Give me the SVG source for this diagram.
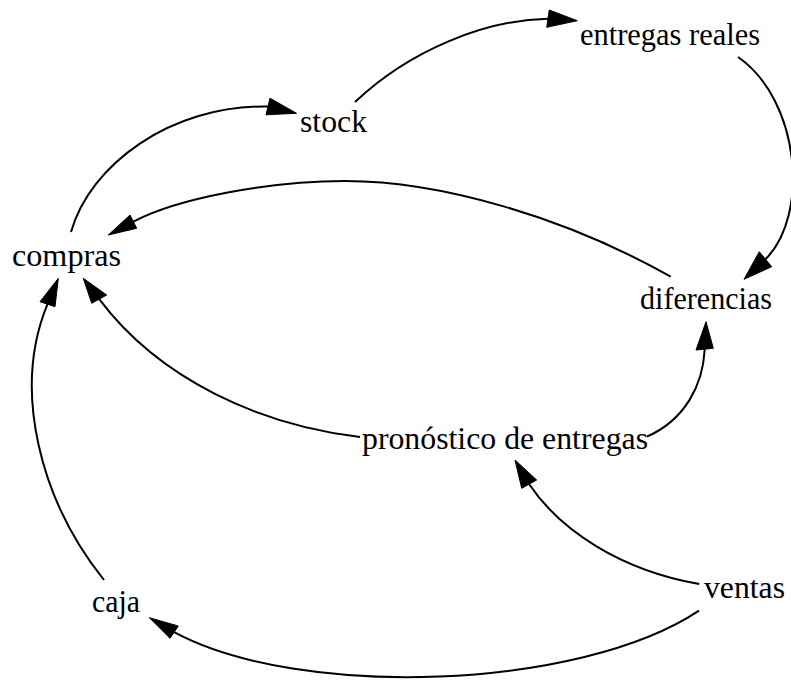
<svg xmlns="http://www.w3.org/2000/svg" width="791" height="681" viewBox="0 0 791 681">
<style>
.lbl{font-family:"Liberation Serif","Times New Roman",serif;font-size:32px;fill:#000;text-anchor:middle}
.edge{fill:none;stroke:#000;stroke-width:2}
.head{fill:#000;stroke:#000;stroke-width:1}
</style>
<rect width="791" height="681" fill="#fff"/>
<g id="connectors">
<g id="e-compras-stock"><path class="edge" d="M71,232 C90,165 170,105 268,106.5"/><polygon class="head" points="270,98.2 296.5,113.3 266,114.8"/></g>
<g id="e-stock-entregas"><path class="edge" d="M355,102 C410,50 485,20 548,18.7"/><polygon class="head" points="549.3,10 577.3,20.7 546.7,27.3"/></g>
<g id="e-entregas-diferencias"><path class="edge" d="M738,57 C800,100 810,215 765.5,259.2"/><polygon class="head" points="759.3,251.7 744,279.3 771.7,266.7"/></g>
<g id="e-diferencias-compras"><path class="edge" d="M670.7,276.7 C564.5,216.7 440,181 345,181 C270,181 177.6,198.3 133.4,221.7"/><polygon class="head" points="130,215 108.3,235 136.7,228.3"/></g>
<g id="e-pronostico-compras"><path class="edge" d="M360,437 C260,425 160,380 99.2,299.2"/><polygon class="head" points="91.7,303.3 83.3,278.3 106.7,295"/></g>
<g id="e-caja-compras"><path class="edge" d="M104,580 C40,500 12,390 47.5,304.2"/><polygon class="head" points="40,301.7 58.3,278.3 55,306.7"/></g>
<g id="e-pronostico-diferencias"><path class="edge" d="M646.7,436.7 C685,420 703,385 704.7,349.2"/><polygon class="head" points="696,350 706,321.7 713.3,348.3"/></g>
<g id="e-ventas-pronostico"><path class="edge" d="M699.3,584 C620,570 560,530 529.2,484.2"/><polygon class="head" points="521.7,488.3 515,460 536.7,480"/></g>
<g id="e-ventas-caja"><path class="edge" d="M699,610.7 C580,690 300,700 174.2,632.2"/><polygon class="head" points="170,638.3 149.3,617.7 178.3,626"/></g>
</g>
<g id="n-entregas-reales"><text class="lbl" x="670" y="45" textLength="180" lengthAdjust="spacingAndGlyphs">entregas reales</text></g>
<g id="n-stock"><text class="lbl" x="333.5" y="132" textLength="67" lengthAdjust="spacingAndGlyphs">stock</text></g>
<g id="n-compras"><text class="lbl" x="66.5" y="266" textLength="109" lengthAdjust="spacingAndGlyphs">compras</text></g>
<g id="n-diferencias"><text class="lbl" x="706" y="309" textLength="132" lengthAdjust="spacingAndGlyphs">diferencias</text></g>
<g id="n-pronostico"><text class="lbl" x="505" y="449" textLength="286" lengthAdjust="spacingAndGlyphs">pronóstico de entregas</text></g>
<g id="n-ventas"><text class="lbl" x="744.5" y="598" textLength="81" lengthAdjust="spacingAndGlyphs">ventas</text></g>
<g id="n-caja"><text class="lbl" x="116" y="612" textLength="48" lengthAdjust="spacingAndGlyphs">caja</text></g>
</svg>
